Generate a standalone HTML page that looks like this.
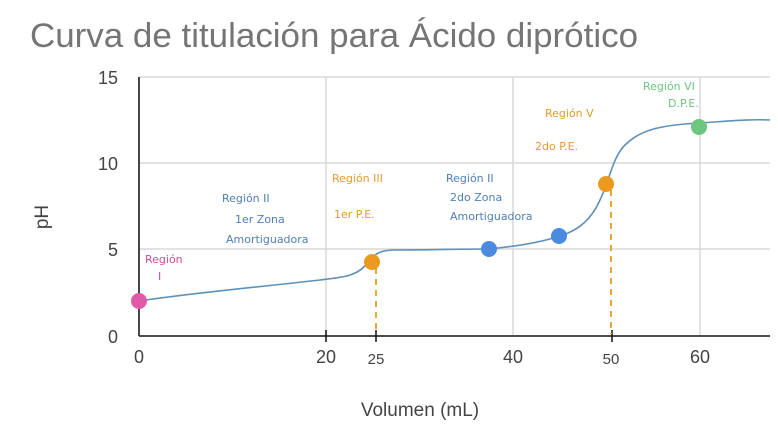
<!DOCTYPE html>
<html><head><meta charset="utf-8"><style>
body{margin:0;background:#fff;width:778px;height:427px;overflow:hidden}
svg{display:block}
.t{font-family:"Liberation Sans",sans-serif}
.h{font-family:"DejaVu Sans",sans-serif;font-size:11px}
</style></head><body>
<svg width="778" height="427" xmlns="http://www.w3.org/2000/svg">
<text x="30" y="47" class="t" font-size="34" fill="#757575" textLength="608" lengthAdjust="spacingAndGlyphs">Curva de titulación para Ácido diprótico</text>
<g stroke="#d9d9d9" stroke-width="1.5">
<line x1="139" y1="77" x2="770" y2="77"/><line x1="139" y1="163" x2="770" y2="163"/><line x1="139" y1="249" x2="770" y2="249"/>
<line x1="326" y1="77" x2="326" y2="336"/><line x1="513" y1="77" x2="513" y2="336"/><line x1="700" y1="77" x2="700" y2="336"/>
</g>
<line x1="139" y1="77" x2="139" y2="336" stroke="#333" stroke-width="1.8"/>
<line x1="139" y1="336" x2="770" y2="336" stroke="#333" stroke-width="1.8"/>
<g class="t" font-size="18" fill="#444" text-anchor="end">
<text x="118" y="84">15</text><text x="118" y="170">10</text><text x="118" y="256">5</text><text x="118" y="343">0</text></g>
<g class="t" font-size="18" fill="#444" text-anchor="middle">
<text x="139" y="363">0</text><text x="326" y="363">20</text><text x="513" y="363">40</text><text x="700" y="363">60</text>
<text x="376" y="364" font-size="15">25</text><text x="611" y="364" font-size="15">50</text>
<text x="420" y="416" font-size="19">Volumen (mL)</text></g>
<text transform="translate(48,217) rotate(-90)" class="t" font-size="19" fill="#444" text-anchor="middle">pH</text>
<g stroke="#111" stroke-width="1.5"><line x1="326" y1="330" x2="326" y2="342"/><line x1="376" y1="330" x2="376" y2="342"/><line x1="612" y1="330" x2="612" y2="342"/></g>
<g stroke="#e8a53a" stroke-width="2" stroke-dasharray="6,5">
<line x1="376" y1="268" x2="376" y2="334"/><line x1="611" y1="190" x2="611" y2="334"/></g>
<path d="M139,301 C200,292 260,287 320,280 C345,277 355,276 365,266 C375,253 380,250 395,250 C430,250 460,249 489,249 C520,246 545,241 560,236 C580,230 592,218 600,200 C610,180 612,158 625,145 C640,130 660,125 700,123 C730,121 750,119 770,120" fill="none" stroke="#5f90b8" stroke-width="1.6"/>
<circle cx="139" cy="301" r="8" fill="#e05aa8"/>
<circle cx="372" cy="262" r="8" fill="#ec9a1f"/>
<circle cx="489" cy="249" r="8" fill="#4a8be0"/>
<circle cx="559" cy="236" r="8" fill="#4a8be0"/>
<circle cx="606" cy="184" r="8" fill="#ec9a1f"/>
<circle cx="699" cy="127" r="8" fill="#6cc680"/>
<g class="h" fill="#d04a9a"><text x="145" y="263">Región</text><text x="158" y="280">I</text></g>
<g class="h" fill="#4f7fb5"><text x="222" y="202">Región II</text><text x="235" y="223">1er Zona</text><text x="226" y="243">Amortiguadora</text>
<text x="446" y="182">Región II</text><text x="450" y="201">2do Zona</text><text x="450" y="220">Amortiguadora</text></g>
<g class="h" fill="#e39a2e" font-size="12"><text x="332" y="182">Región III</text><text x="334" y="218">1er  P.E.</text>
<text x="545" y="117">Región V</text><text x="535" y="150">2do   P.E.</text></g>
<g class="h" fill="#6cc680" font-size="10"><text x="643" y="90">Región VI</text><text x="668" y="107">D.P.E.</text></g>
</svg>
</body></html>
